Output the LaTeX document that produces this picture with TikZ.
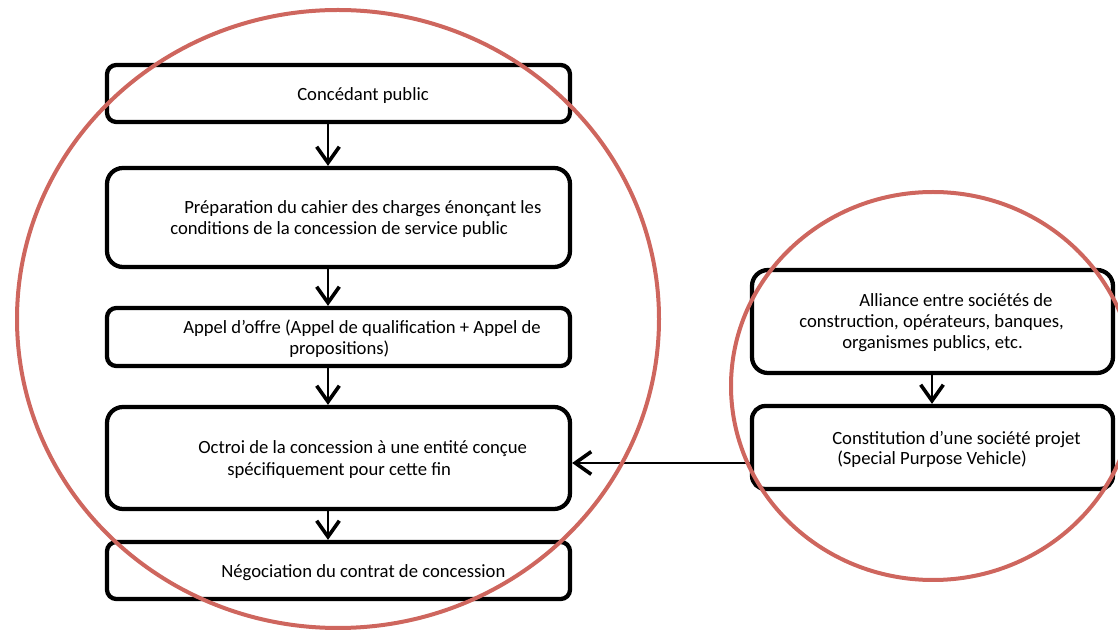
\documentclass[tikz,border=0pt]{standalone}
\usepackage{fontspec}
\setmainfont{Carlito}
\usetikzlibrary{arrows.meta}
\definecolor{ringred}{RGB}{206,102,94}
\begin{document}
\begin{tikzpicture}[x=0.75pt,y=-0.75pt,
  stepbox/.style={draw=black, line width=3.2pt, inner sep=0pt, fill=none},
  txt/.style={anchor=base west, inner sep=0pt, font=\fontsize{14pt}{15.75pt}\selectfont},
  arr/.style={line width=1.3pt, -{Straight Barb[length=12pt, width=17pt, line width=2.7pt]}},
  ring/.style={draw=ringred, line width=3pt}]
\useasboundingbox (0,0) rectangle (1118,630);

% left column of steps
\node[stepbox, rounded corners=7pt,  minimum width=347.25pt, minimum height=42.75pt] (b1) at (338.5,93.5) {};
\node[stepbox, rounded corners=12pt, minimum width=347.25pt, minimum height=74.25pt] (b2) at (338.5,217.5) {};
\node[stepbox, rounded corners=7pt,  minimum width=347.25pt, minimum height=43.5pt]  (b3) at (338.5,337) {};
\node[stepbox, rounded corners=12pt, minimum width=347.25pt, minimum height=76.5pt]  (b4) at (338.5,458) {};
\node[stepbox, rounded corners=7pt,  minimum width=347.25pt, minimum height=42.75pt] (b5) at (338.5,570.5) {};

% right column
\node[stepbox, rounded corners=12pt, minimum width=270.75pt, minimum height=77.25pt] (ba) at (932.5,321.5) {};
\node[stepbox, rounded corners=10pt, minimum width=270.75pt, minimum height=62.25pt] (bb) at (932.5,447.5) {};

% texts
\node[txt] (t1)  at (297,101) {Concédant public};
\node[txt] (t2a) at (184,214) {Préparation du cahier des charges énonçant les};
\node[txt] (t2b) at (170,235) {conditions de la concession de service public};
\node[txt] (t3a) at (183,334) {Appel d’offre (Appel de qualification + Appel de};
\node[txt] (t3b) at (289,355) {propositions)};
\node[txt] (t4a) at (198,454) {Octroi de la concession à une entité conçue};
\node[txt] (t4b) at (227,476) {spécifiquement pour cette fin};
\node[txt] (t5)  at (221,578) {Négociation du contrat de concession};
\node[txt] (tAa) at (859,307) {Alliance entre sociétés de};
\node[txt] (tAb) at (799,328) {construction, opérateurs, banques,};
\node[txt] (tAc) at (842,349) {organismes publics, etc.};
\node[txt] (tBa) at (832,445) {Constitution d’une société projet};
\node[txt] (tBb) at (837,465) {(Special Purpose Vehicle)};

% connectors
\coordinate (ax) at (328,0);
\coordinate (rx) at (932,0);
\coordinate (hy) at (0,463);
\draw[arr] (ax |- b1.south) -- (ax |- b2.north);
\draw[arr] (ax |- b2.south) -- (ax |- b3.north);
\draw[arr] (ax |- b3.south) -- (ax |- b4.north);
\draw[arr] (ax |- b4.south) -- (ax |- b5.north);
\draw[arr] (rx |- ba.south) -- (rx |- bb.north);
\draw[arr] (hy -| bb.west) -- (hy -| b4.east);

% highlighting rings
\draw[ring] (338,319) ellipse [x radius=240.75pt, y radius=231.75pt];
\draw[ring] (933,386) ellipse [x radius=151.5pt, y radius=145.5pt];
\end{tikzpicture}
\end{document}
